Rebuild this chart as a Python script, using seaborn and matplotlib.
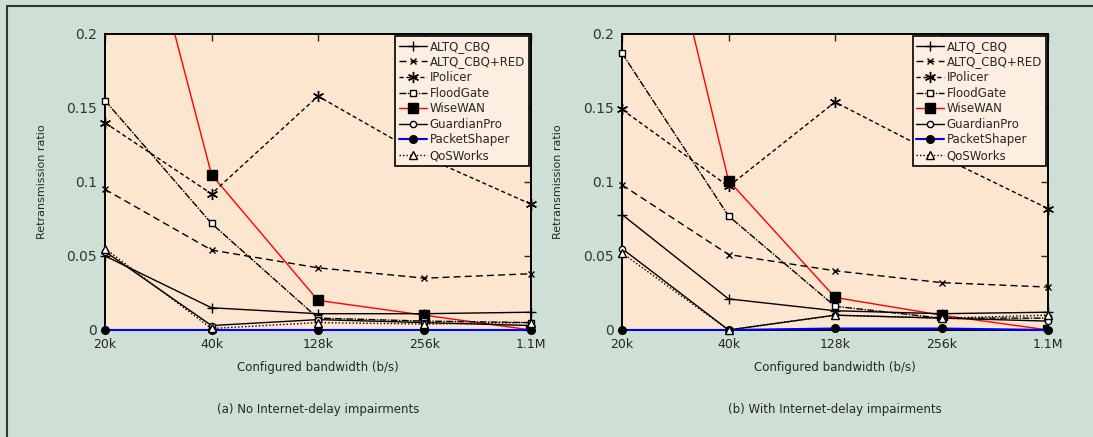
import matplotlib
matplotlib.use("Agg")
import matplotlib.pyplot as plt
from matplotlib.lines import Line2D
import numpy as np
import pandas as pd
import seaborn as sns


BANDWIDTHS = ["20k", "40k", "128k", "256k", "1.1M"]
DEVICES = ["ALTQ_CBQ", "ALTQ_CBQ+RED", "IPolicer", "FloodGate",
           "WiseWAN", "GuardianPro", "PacketShaper", "QoSWorks"]

# (a) no Internet-delay impairments
altq_cbq_a = [0.050, 0.015, 0.011, 0.011, 0.012]
altq_red_a = [0.095, 0.054, 0.042, 0.035, 0.038]
ipolicer_a = [0.140, 0.092, 0.158, 0.117, 0.085]
floodgate_a = [0.155, 0.072, 0.008, 0.006, 0.005]
wisewan_a = [0.380, 0.105, 0.020, 0.010, 0.000]
guardian_a = [0.053, 0.003, 0.007, 0.005, 0.003]
packetshaper_a = [0.0, 0.0, 0.0, 0.0, 0.0]
qosworks_a = [0.055, 0.001, 0.005, 0.004, 0.005]

# (b) with Internet-delay impairments
altq_cbq_b = [0.078, 0.021, 0.013, 0.011, 0.012]
altq_red_b = [0.098, 0.051, 0.040, 0.032, 0.029]
ipolicer_b = [0.149, 0.097, 0.154, 0.117, 0.082]
floodgate_b = [0.187, 0.077, 0.016, 0.008, 0.008]
wisewan_b = [0.400, 0.101, 0.022, 0.010, 0.000]
guardian_b = [0.055, 0.000, 0.010, 0.008, 0.006]
packetshaper_b = [0.0, 0.0, 0.001, 0.001, 0.0]
qosworks_b = [0.052, 0.000, 0.010, 0.008, 0.010]

PANEL_A = [altq_cbq_a, altq_red_a, ipolicer_a, floodgate_a,
           wisewan_a, guardian_a, packetshaper_a, qosworks_a]
PANEL_B = [altq_cbq_b, altq_red_b, ipolicer_b, floodgate_b,
           wisewan_b, guardian_b, packetshaper_b, qosworks_b]

SAGE = "#cee0d5"
PEACH = "#fde6cf"

STYLES = {
    "ALTQ_CBQ": dict(color="black", ls="-", marker="+", ms=7, mfc="black", lw=1.0),
    "ALTQ_CBQ+RED": dict(color="black", ls=(0, (5, 3)), marker="x", ms=5, mfc="black", lw=1.0),
    "IPolicer": dict(color="black", ls=(0, (3, 2)), marker=(6, 2, 0), ms=8, mfc="black", lw=1.0),
    "FloodGate": dict(color="black", ls=(0, (5, 1, 1, 1)), marker="s", ms=5, mfc="white", lw=1.0),
    "WiseWAN": dict(color="red", ls="-", marker="s", ms=6.5, mfc="black", lw=1.0),
    "GuardianPro": dict(color="black", ls="-", marker="o", ms=4.5, mfc="white", lw=1.0),
    "PacketShaper": dict(color="blue", ls="-", marker="o", ms=5.5, mfc="black", lw=1.5),
    "QoSWorks": dict(color="black", ls=(0, (1, 1.5)), marker="^", ms=5.5, mfc="white", lw=1.0),
}


def long_frame(series):
    rows = []
    for name, vals in zip(DEVICES, series):
        for i, v in enumerate(vals):
            rows.append({"device": name, "pos": i, "ratio": v})
    return pd.DataFrame(rows)


def draw_panel(ax, series, xlabel, caption, ylabel=None):
    df = long_frame(series)
    for name in DEVICES:
        st = STYLES[name]
        sub = df[df["device"] == name]
        sns.lineplot(
            data=sub, x="pos", y="ratio", ax=ax, label=name,
            color=st["color"], linestyle=st["ls"], linewidth=st["lw"],
            marker=st["marker"], markersize=st["ms"],
            markerfacecolor=st["mfc"], markeredgecolor="black",
            markeredgewidth=1.0, clip_on=(name == "WiseWAN"),
            zorder=3 if name != "WiseWAN" else 2,
        )
    ax.set_facecolor(PEACH)
    ax.set_xlim(0, len(BANDWIDTHS) - 1)
    ax.set_ylim(0, 0.2)
    ax.set_xticks(range(len(BANDWIDTHS)))
    ax.set_xticklabels(BANDWIDTHS, fontsize=9)
    ax.set_yticks([0, 0.05, 0.1, 0.15, 0.2])
    ax.set_yticklabels(["0", "0.05", "0.1", "0.15", "0.2"], fontsize=10, color="#333333")
    ax.tick_params(direction="in", top=True, right=True, length=5, width=1, pad=6)
    ax.grid(False)
    for sp in ax.spines.values():
        sp.set_color("black")
        sp.set_linewidth(1.4)
    ax.set_xlabel(xlabel, fontsize=8.5, labelpad=7)
    ax.set_ylabel(ylabel if ylabel else "", fontsize=8, labelpad=14)
    ax.text(0.5, -0.27, caption, transform=ax.transAxes, ha="center",
            va="center", fontsize=8.5)
    leg = ax.legend(loc="upper right", fontsize=8.5, frameon=True,
                    fancybox=False, edgecolor="black", facecolor="#fdeee2",
                    framealpha=1, labelspacing=0.22, handlelength=2.4,
                    handletextpad=0.2, borderpad=0.3, borderaxespad=0.2)
    leg.set_zorder(10)
    leg.get_frame().set_linewidth(1.2)


def main() -> None:
    sns.set_theme(style="white")
    plt.rcParams["font.family"] = ["DejaVu Sans"]

    fig = plt.figure(figsize=(10.93, 4.37), dpi=100, facecolor=SAGE)
    ax_a = fig.add_axes([0.0961, 0.2449, 0.3897, 0.6773])
    ax_b = fig.add_axes([0.5691, 0.2449, 0.3898, 0.6773])

    draw_panel(ax_a, PANEL_A, "Configured bandwidth (b/s)",
               "(a) No Internet-delay impairments", "Retransmission ratio")
    draw_panel(ax_b, PANEL_B, "Configured bandwidth (b/s)",
               "(b) With Internet-delay impairments", "Retransmission ratio")

    fig.add_artist(Line2D([0.0064, 0.0064], [0, 0.986], color="#333333", lw=1.5))
    fig.add_artist(Line2D([0.0064, 1.0], [0.986, 0.986], color="#333333", lw=1.5))

    fig.savefig("out.png", dpi=100, facecolor=SAGE)
    plt.close(fig)


if __name__ == "__main__":
    main()
